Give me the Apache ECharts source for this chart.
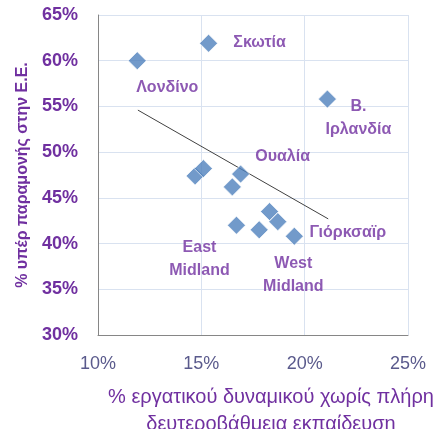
<!DOCTYPE html>
<html>
<head>
<meta charset="utf-8">
<script src="https://cdn.jsdelivr.net/npm/echarts@6/dist/echarts.min.js"></script>
<style>
  html, body { margin: 0; padding: 0; background: #fff; }
  #chart { width: 441px; height: 429px; }
</style>
</head>
<body>
<div id="chart"></div>
<script>
// --- data (percent) ---
const regionNames = ['Λονδίνο', 'Σκωτία', 'Β.\nΙρλανδία', 'Ουαλία', '', '', '', '', 'Γιόρκσαϊρ', 'East\nMidland', '', 'West\nMidland'];
const skillsGap = [11.9, 15.35, 21.1, 16.9, 14.7, 15.1, 16.5, 18.3, 18.7, 16.7, 17.8, 19.5];
const remainShare = [60.0, 61.9, 55.8, 47.6, 47.4, 48.2, 46.2, 43.5, 42.4, 42.0, 41.5, 40.8];
const trendX = [11.93, 21.14];
const trendY = [54.6, 42.7];
const xTicks = [10, 15, 20, 25];
const yTicks = [30, 35, 40, 45, 50, 55, 60, 65];

// label placement (offset from the marker centre)
const labelOffsets = {
  'Λονδίνο': [30, 27],
  'Σκωτία': [51, -1],
  'Β.\nΙρλανδία': [31, 19],
  'Ουαλία': [42, -17],
  'Γιόρκσαϊρ': [70, 11],
  'East\nMidland': [-37, 34],
  'West\nMidland': [-1, 39]
};

const purple = '#7030A0';
const font = "'Liberation Sans', 'DejaVu Sans', sans-serif";

const chart = echarts.init(document.getElementById('chart'));

const points = skillsGap.map((x, i) => {
  const name = regionNames[i];
  const item = { value: [x, remainShare[i]], name: name };
  if (name) {
    item.label = {
      show: true,
      position: 'inside',
      offset: labelOffsets[name],
      formatter: name,
      color: purple,
      fontFamily: font,
      fontWeight: 'bold',
      fontSize: 16,
      lineHeight: 23,
      align: 'center'
    };
  }
  return item;
});

const option = {
  animation: false,
  grid: { left: 98, right: 33, top: 15, bottom: 94, containLabel: false, outerBoundsMode: 'none' },
  xAxis: {
    type: 'value',
    min: xTicks[0],
    max: xTicks[xTicks.length - 1],
    interval: 5,
    name: '% εργατικού δυναμικού χωρίς πλήρη\nδευτεροβάθμεια εκπαίδευση',
    nameLocation: 'middle',
    nameGap: 49,
    nameTextStyle: {
      color: purple, fontFamily: font, fontSize: 20, lineHeight: 27,
      padding: [0, 0, 0, 36]
    },
    axisLine: { show: true, lineStyle: { color: '#868686' } },
    axisTick: { show: false },
    axisLabel: {
      formatter: '{value}%', color: '#5A5A8C', fontFamily: font, fontSize: 18, margin: 20
    },
    splitLine: { show: true, lineStyle: { color: '#D9E2F0' } }
  },
  yAxis: {
    type: 'value',
    min: yTicks[0],
    max: yTicks[yTicks.length - 1],
    interval: 5,
    name: '% υπέρ παραμονής στην Ε.Ε.',
    nameLocation: 'middle',
    nameGap: 61,
    nameTextStyle: { color: purple, fontFamily: font, fontSize: 16, fontWeight: 'bold' },
    axisLine: { show: true, lineStyle: { color: '#868686' } },
    axisTick: { show: false },
    axisLabel: {
      formatter: '{value}%', color: purple, fontFamily: font, fontSize: 18, fontWeight: 'bold', margin: 20
    },
    splitLine: { show: true, lineStyle: { color: '#D9E2F0' } }
  },
  series: [
    {
      type: 'line',
      data: trendX.map((x, i) => [x, trendY[i]]),
      symbol: 'none',
      lineStyle: { color: '#404040', width: 1 },
      z: 1
    },
    {
      type: 'scatter',
      symbol: 'diamond',
      symbolSize: 18,
      itemStyle: { color: '#4F81BD', borderColor: '#ffffff', borderWidth: 0.8 },
      data: points,
      z: 2
    }
  ]
};

chart.setOption(option);
</script>
</body>
</html>
